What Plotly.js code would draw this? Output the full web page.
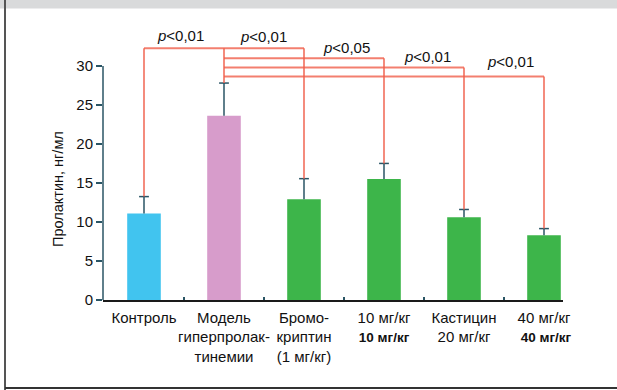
<!DOCTYPE html>
<html>
<head>
<meta charset="utf-8">
<script src="https://cdn.plot.ly/plotly-3.0.1.min.js"></script>
<style>html,body{margin:0;padding:0;background:#fff;}#chart{width:617px;height:390px;}</style>
</head>
<body>
<div id="chart"></div>
<script>
// ---- data ----
const categories = [
  "Контроль",
  "Модель<br>гиперпролак-<br>тинемии",
  "Бромо-<br>криптин<br>(1 мг/кг)",
  "10 мг/кг<br><span style=\"font-size:13.5px\"><b>10 мг/кг</b></span>",
  "Кастицин<br>20 мг/кг",
  "40 мг/кг<br><span style=\"font-size:13.5px\"><b>&nbsp;40 мг/кг</b></span>"
];
const prolactin = [11.1, 23.6, 12.9, 15.5, 10.6, 8.3];
const sdPlus = [2.15, 4.2, 2.65, 2.0, 1.0, 0.85];
const barColors = ["#41c4ef", "#d79ccb", "#3db54a", "#3db54a", "#3db54a", "#3db54a"];
const yTicks = [0, 5, 10, 15, 20, 25, 30];
// significance comparisons: [from index, to index, p text]
const compFrom = [0, 1, 1, 1, 1];
const compTo = [1, 2, 3, 4, 5];
const pTexts = ["<i>p</i>&lt;0,01", "<i>p</i>&lt;0,01", "<i>p</i>&lt;0,05", "<i>p</i>&lt;0,01", "<i>p</i>&lt;0,01"];

// ---- layout constants ----
const idx = categories.map((_, i) => i);
const bracketLevels = [32.27, 32.27, 30.99, 29.78, 28.63];
const labelPos = [[0.45, 33.85], [1.49, 33.72], [2.525, 32.3], [3.54, 31.15], [4.575, 30.5]];
const red = "rgba(240,95,75,0.8)";
const errColor = "#2a5565";
const FONT = "Liberation Sans, Arial, Helvetica, sans-serif";
const errTop = prolactin.map((v, i) => v + sdPlus[i]);

const shapes = [];
// frame
shapes.push({type: "rect", xref: "paper", yref: "paper", x0: -103/460, x1: 514/460, y0: 291.5/270, y1: 300/270, fillcolor: "#d9dadb", line: {width: 0}, layer: "below"});
shapes.push({type: "line", xref: "paper", yref: "paper", x0: -98/460, x1: -98/460, y0: -90/270, y1: 300/270, line: {color: "#555", width: 2}});
shapes.push({type: "line", xref: "paper", yref: "paper", x0: -98/460, x1: 514/460, y0: -88/270, y1: -88/270, line: {color: "#333", width: 2}});
// y axis line (0..30)
shapes.push({type: "line", xref: "paper", yref: "y", x0: 0, x1: 0, y0: 0, y1: yTicks[yTicks.length-1], line: {color: errColor, width: 1.5}});
// brackets
const drawnVert = {};
compFrom.forEach((a, k) => {
  const b = compTo[k];
  const lvl = bracketLevels[k];
  shapes.push({type: "line", xref: "x", yref: "y", x0: a, x1: b, y0: lvl, y1: lvl, line: {color: red, width: 2}});
  [a, b].forEach(j => {
    if (drawnVert[j] === undefined || drawnVert[j] < lvl) drawnVert[j] = lvl;
  });
});
Object.keys(drawnVert).forEach(j => {
  shapes.push({type: "line", xref: "x", yref: "y", x0: +j, x1: +j, y0: errTop[j], y1: drawnVert[j], line: {color: red, width: 1.8}});
});

const annotations = pTexts.map((t, k) => ({
  x: labelPos[k][0], y: labelPos[k][1], xref: "x", yref: "y", text: t, showarrow: false,
  font: {family: FONT, size: 15, color: "#111"}
}));
annotations.push({
  xref: "paper", yref: "paper", x: -55/460, y: (300-189)/270, text: "Пролактин, нг/мл", textangle: -90,
  showarrow: false, font: {family: FONT, size: 14.5, color: "#111"}
});

const bars = {
  type: "bar", x: idx, y: prolactin, width: 0.42,
  marker: {color: barColors, line: {width: 0}},
  error_y: {type: "data", symmetric: false, array: sdPlus, arrayminus: prolactin.map(() => 0), color: errColor, thickness: 1.5, width: 0},
  hoverinfo: "none"
};
const caps = {
  type: "scatter", mode: "markers", x: idx, y: errTop,
  marker: {symbol: "line-ew", size: 7, line: {color: errColor, width: 1.5}},
  hoverinfo: "none", cliponaxis: false
};

const layout = {
  width: 617, height: 390,
  margin: {l: 103, r: 54, t: 30, b: 90},
  paper_bgcolor: "#fff", plot_bgcolor: "rgba(0,0,0,0)",
  showlegend: false,
  font: {family: FONT, size: 15, color: "#111"},
  xaxis: {
    range: [-0.5125, 5.2375], tickmode: "array", tickvals: idx, ticktext: categories, tickangle: 0,
    ticks: "", showline: true, linecolor: "#1a1a1a", linewidth: 1.5, showgrid: false, zeroline: false,
    tickfont: {size: 15, color: "#111"}, ticklabelstandoff: 3,
    minor: {tickmode: "array", tickvals: [0.5, 1.5, 2.5, 3.5, 4.5], ticks: "inside", ticklen: 3, tickcolor: errColor, tickwidth: 1.2}
  },
  yaxis: {
    range: [0, 34.6], tickmode: "array", tickvals: yTicks, ticks: "outside", ticklen: 6, tickwidth: 1.5, tickcolor: errColor,
    showline: false, showgrid: false, zeroline: false, tickfont: {size: 15, color: "#111"}
  },
  shapes: shapes, annotations: annotations
};

Plotly.newPlot("chart", [bars, caps], layout, {displayModeBar: false, staticPlot: true});
</script>
</body>
</html>
